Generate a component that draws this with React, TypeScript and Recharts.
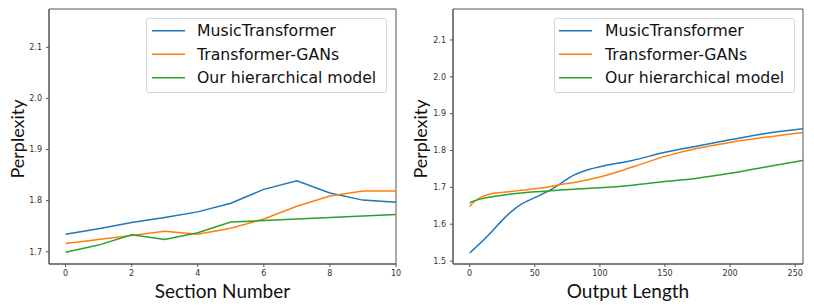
import React from 'react';
import { LineChart, Line, XAxis, YAxis, ReferenceArea } from 'recharts';

const sections = [0, 1, 2, 3, 4, 5, 6, 7, 8, 9, 10];
const secMusic = [1.734, 1.745, 1.757, 1.767, 1.778, 1.795, 1.822, 1.839, 1.815, 1.801, 1.797];
const secGan = [1.716, 1.724, 1.732, 1.740, 1.734, 1.746, 1.764, 1.789, 1.809, 1.819, 1.819];
const secOurs = [1.699, 1.713, 1.733, 1.724, 1.737, 1.758, 1.761, 1.764, 1.767, 1.770, 1.773];

const lengths = [0, 4, 8, 16, 24, 32, 40, 50, 60, 70, 80, 90, 100, 125, 150, 175, 200, 225, 256];
const lenMusic = [1.522, 1.535, 1.548, 1.576, 1.607, 1.634, 1.655, 1.672, 1.689, 1.711, 1.733, 1.747, 1.756, 1.773, 1.795, 1.812, 1.829, 1.845, 1.859];
const lenGan = [1.648, 1.663, 1.672, 1.682, 1.686, 1.689, 1.692, 1.696, 1.701, 1.708, 1.713, 1.720, 1.728, 1.755, 1.784, 1.806, 1.822, 1.835, 1.849];
const lenOurs = [1.658, 1.664, 1.668, 1.674, 1.678, 1.682, 1.685, 1.688, 1.690, 1.693, 1.695, 1.697, 1.699, 1.706, 1.716, 1.725, 1.738, 1.754, 1.773];

const leftYTicks = [1.7, 1.8, 1.9, 2.0, 2.1];
const leftXTicks = [0, 2, 4, 6, 8, 10];
const rightYTicks = [1.5, 1.6, 1.7, 1.8, 1.9, 2.0, 2.1];
const rightXTicks = [0, 50, 100, 150, 200, 250];

const names = ['MusicTransformer', 'Transformer-GANs', 'Our hierarchical model'];
const colors = ['#1f77b4', '#ff7f0e', '#2ca02c'];

const secData = sections.map((x, i) => ({ x, a: secMusic[i], b: secGan[i], c: secOurs[i] }));
const lenData = lengths.map((x, i) => ({ x, a: lenMusic[i], b: lenGan[i], c: lenOurs[i] }));

const AXIS = '#555';
const TICK = { fontSize: 8, fill: '#333', fontFamily: 'DejaVu Sans' };

const LegendBox = ({ left, lineX0, textX }: { left: number; lineX0: number; textX: number }) => (
  <div
    style={{
      position: 'absolute',
      left,
      top: 18,
      width: 241,
      height: 75,
      border: '1px solid #d6d6d6',
      borderRadius: 3,
      background: 'white',
      boxSizing: 'border-box',
    }}
  >
    <svg width={241} height={75} style={{ position: 'absolute', left: -1, top: -1 }}>
      {names.map((n, i) => (
        <g key={n}>
          <line x1={lineX0} x2={lineX0 + 33} y1={12.7 + i * 23.5} y2={12.7 + i * 23.5} stroke={colors[i]} strokeWidth={1.5} />
          <text x={textX} y={12.7 + i * 23.5} dy="0.36em" fontSize={15.7} fontFamily="DejaVu Sans" fill="#111">
            {n}
          </text>
        </g>
      ))}
    </svg>
  </div>
);

type PanelProps = {
  data: any[];
  xDomain: [number, number];
  yDomain: [number, number];
  xTicks: number[];
  yTicks: number[];
  xLabel: string;
  width: number;
  rightMargin: number;
  monotone: boolean;
  ylabelX: number;
};

const Panel = (p: PanelProps) => (
  <LineChart width={p.width} height={308} data={p.data} margin={{ top: 9, right: p.rightMargin, left: 0, bottom: 0 }}>
    <XAxis
      dataKey="x"
      type="number"
      domain={p.xDomain}
      ticks={p.xTicks}
      allowDataOverflow
      height={44}
      stroke={AXIS}
      tickSize={3}
      tickMargin={3}
      tick={TICK}
      tickFormatter={(v: number) => String(v)}
      label={(lp: any) => {
        const vb = lp.viewBox || {};
        return (
          <text x={vb.x + vb.width / 2} y={291} dy="0.35em" textAnchor="middle" fontSize={19} fill="#111" fontFamily="Lato">
            {p.xLabel}
          </text>
        );
      }}
    />
    <YAxis
      type="number"
      domain={p.yDomain}
      ticks={p.yTicks}
      allowDataOverflow
      width={49}
      stroke={AXIS}
      tickSize={3}
      tickMargin={4}
      tick={TICK}
      tickFormatter={(v: number) => v.toFixed(1)}
      label={() => (
        <text
          x={p.ylabelX}
          y={139}
          dy="0.35em"
          textAnchor="middle"
          fontSize={18}
          fill="#111"
          fontFamily="Lato"
          transform={`rotate(-90 ${p.ylabelX} 139)`}
        >
          Perplexity
        </text>
      )}
    />
    <ReferenceArea
      x1={p.xDomain[0]}
      x2={p.xDomain[1]}
      y1={p.yDomain[0]}
      y2={p.yDomain[1]}
      stroke={AXIS}
      strokeWidth={1}
      fill="none"
      ifOverflow="visible"
    />
    {(['a', 'b', 'c'] as const).map((k, i) => (
      <Line
        key={k}
        dataKey={k}
        name={names[i]}
        stroke={colors[i]}
        strokeWidth={1.5}
        dot={false}
        type={p.monotone ? 'monotone' : 'linear'}
        isAnimationActive={false}
      />
    ))}
  </LineChart>
);

export default function App() {
  return (
    <div style={{ position: 'absolute', left: 0, top: 0, width: 814, height: 308, background: 'white' }}>
      <div style={{ position: 'absolute', left: 0, top: 0 }}>
        <Panel
          data={secData}
          xDomain={[-0.5, 10]}
          yDomain={[1.676, 2.175]}
          xTicks={leftXTicks}
          yTicks={leftYTicks}
          xLabel="Section Number"
          width={406}
          rightMargin={10}
          monotone={false}
          ylabelX={18}
        />
        <LegendBox left={146} lineX0={6} textX={51} />
      </div>
      <div style={{ position: 'absolute', left: 404, top: 0 }}>
        <Panel
          data={lenData}
          xDomain={[-12.8, 256]}
          yDomain={[1.492, 2.184]}
          xTicks={rightXTicks}
          yTicks={rightYTicks}
          xLabel="Output Length"
          width={410}
          rightMargin={11}
          monotone={true}
          ylabelX={17}
        />
        <LegendBox left={150} lineX0={5} textX={51} />
      </div>
    </div>
  );
}
